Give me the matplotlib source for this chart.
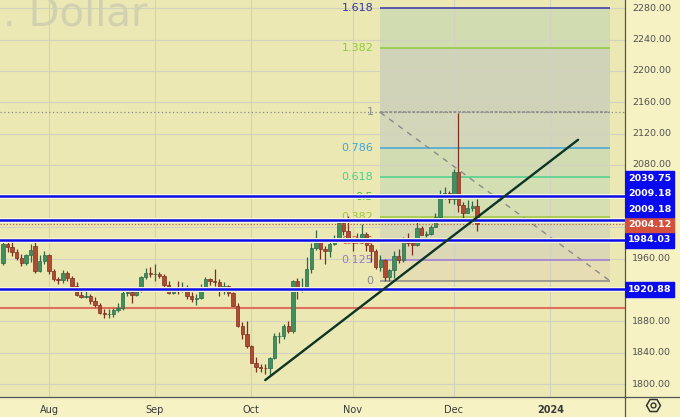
import matplotlib
matplotlib.use('Agg')
import matplotlib.pyplot as plt
import matplotlib.patheffects as pe
from matplotlib.patches import Rectangle
from matplotlib.lines import Line2D
import numpy as np
import pandas as pd

# daily candles, gold spot / usd, 18 Jul - 8 Dec 2023
first_day = '2023-07-18'
opens = [1955, 1979, 1975, 1969, 1961, 1954, 1965, 1976, 1945, 1957,
         1965, 1944, 1934, 1933, 1942, 1936, 1925, 1914, 1911, 1912, 1906, 1901,
         1891, 1889, 1889, 1895, 1897, 1916, 1917, 1914, 1919, 1937, 1942,
         1940, 1940, 1938, 1926, 1916, 1920, 1919, 1922, 1913, 1908, 1910,
         1924, 1934, 1931, 1930, 1920, 1925, 1916, 1900, 1874, 1864,
         1848, 1827, 1822, 1821, 1820, 1833, 1861, 1861, 1874, 1868, 1932,
         1920, 1923, 1947, 1974, 1981, 1972, 1970, 1979, 1985, 2006, 1996,
         1983, 1982, 1985, 1992, 1978, 1970, 1950, 1958, 1937, 1946, 1963,
         1959, 1981, 1980, 1978, 1999, 1990, 1992, 2001, 2013, 2041, 2044,
         2036, 2071, 2029, 2019, 2025, 2028]
highs = [1984, 1982, 1987, 1973, 1966, 1966, 1979, 1982, 1965, 1970,
         1966, 1947, 1937, 1946, 1944, 1938, 1930, 1922, 1919, 1915, 1911, 1904,
         1896, 1896, 1897, 1903, 1919, 1922, 1924, 1923, 1938, 1948, 1949,
         1953, 1943, 1941, 1931, 1924, 1932, 1930, 1926, 1917, 1915,
         1928, 1937, 1936, 1947, 1934, 1930, 1927, 1917, 1903, 1879, 1880,
         1850, 1835, 1826, 1825, 1835, 1865, 1866, 1877, 1881, 1933,
         1936, 1936, 1962, 1980, 1997, 1983, 1976, 1983, 1990, 2009, 2009, 2015,
         1987, 1993, 2004, 1994, 1980, 1972, 1965, 1960, 1947, 1970, 1972,
         1988, 1993, 1983, 2007, 2002, 1995, 2003, 2018, 2048, 2052, 2047,
         2075, 2146, 2032, 2035, 2034, 2036]
lows = [1952, 1969, 1964, 1959, 1951, 1952, 1956, 1942, 1943, 1953,
        1940, 1931, 1928, 1929, 1931, 1922, 1912, 1910, 1910, 1902, 1899, 1890,
        1884, 1884, 1885, 1892, 1895, 1912, 1903, 1912, 1917, 1934, 1937,
        1931, 1935, 1923, 1915, 1915, 1915, 1917, 1908, 1905, 1901,
        1909, 1920, 1927, 1925, 1913, 1915, 1912, 1900, 1873, 1857, 1846,
        1827, 1815, 1815, 1813, 1810, 1832, 1853, 1858, 1865, 1865,
        1908, 1917, 1921, 1942, 1971, 1960, 1953, 1962, 1977, 1983, 1990, 1980,
        1970, 1980, 1980, 1970, 1956, 1947, 1945, 1932, 1931, 1936, 1955,
        1956, 1976, 1965, 1976, 1990, 1988, 1990, 2001, 2010, 2036, 2031,
        2030, 2020, 2009, 2018, 2021, 1995]
closes = [1979, 1975, 1969, 1961, 1954, 1965, 1971, 1945, 1957, 1965,
          1944, 1934, 1933, 1942, 1936, 1925, 1914, 1911, 1912, 1906, 1901, 1891,
          1889, 1889, 1895, 1897, 1916, 1917, 1914, 1919, 1937, 1942, 1940,
          1940, 1938, 1926, 1916, 1920, 1919, 1922, 1913, 1908, 1910,
          1924, 1934, 1931, 1930, 1920, 1925, 1916, 1900, 1874, 1864, 1848,
          1827, 1822, 1821, 1820, 1833, 1861, 1861, 1874, 1868, 1932,
          1920, 1923, 1947, 1974, 1981, 1972, 1970, 1979, 1985, 2006, 1996, 1983,
          1982, 1985, 1992, 1978, 1970, 1950, 1958, 1937, 1946, 1963, 1959,
          1981, 1980, 1978, 1999, 1990, 1992, 2001, 2013, 2041, 2044, 2036,
          2071, 2029, 2019, 2025, 2028, 2004]

# horizontal levels
blue_levels = [2039.75, 2009.18, 1984.03, 1920.88]
red_level = 1897.0
last_price = 2004.12

# fibonacci retracement
fib_low, fib_high = 1931.5, 2147.0
fib_from, fib_to = '2023-11-09', '2024-01-18'
fib_ratios = [0, 0.125, 0.236, 0.382, 0.5, 0.618, 0.786, 1, 1.382, 1.618]
fib_colors = ['#8a8a8a', '#9a78d6', '#e0503f', '#a3c43c', '#3fc23a',
              '#4ccf8e', '#3fa6dc', '#8a8a8a', '#8fcb3c', '#3434a8']
fib_fills = ['#e6ddb3', '#dcd7b5', '#d8dbb6', '#d5dfb2', '#d3deb2',
             '#d1dcb3', '#d3d6b8', '#d1d3b8', '#d1dcb1']

# trend line
trend_dates = ['2023-10-05', '2024-01-09']
trend_prices = [1805, 2112]

# price scale tags
tag_prices = [1920.88, 1984.03, 2004.12, 2009.18, 2009.18, 2039.75]
tag_colors = ['#0a0aee', '#0a0aee', '#d2503c', '#0a0aee', '#0a0aee', '#0a0aee']

month_starts = ['2023-08', '2023-09', '2023-10', '2023-11', '2023-12', '2024-01']
month_names = ['Aug', 'Sep', 'Oct', 'Nov', 'Dec', '2024']

days = pd.bdate_range('2023-07-17', '2024-02-29')
pos = {d: i for i, d in enumerate(days)}
def xpos(s):
    return pos[pd.Timestamp(s)]

o = np.array(opens, float)
h = np.array(highs, float)
l = np.array(lows, float)
c = np.array(closes, float)
x0 = xpos(first_day)
x = np.arange(x0, x0 + len(o))

fig = plt.figure(figsize=(6.8, 4.17), dpi=100, facecolor='#f6f2c4')
ax = fig.add_axes([0, 20/417, 625/680, 397/417], facecolor='#ebe8b3')
ax.set_xlim(0.35, 136.2)
ax.set_ylim(1783.4, 2290.6)

mpos = [next(i for i, d in enumerate(days) if d.strftime('%Y-%m') == m) for m in month_starts]
ax.set_xticks(mpos, month_names)
ax.set_yticks(np.arange(1800, 2290, 40))
ax.grid(color='#d3d2c2', lw=0.8)
ax.set_axisbelow(True)
ax.tick_params(axis='y', length=0, labelleft=False)
ax.tick_params(axis='x', length=0, pad=6, labelsize=7, labelcolor='#3a3a3a')
ax.get_xticklabels()[-1].set_fontweight('bold')
for s in ['top', 'left']:
    ax.spines[s].set_visible(False)
for s in ['right', 'bottom']:
    ax.spines[s].set_color('#555555')
    ax.spines[s].set_linewidth(0.9)

# watermark (cut by the top edge, as in the source)
ax.text(3/625, 1 - 25/397, '. Dollar', transform=ax.transAxes, fontsize=29,
        color='#d2d1af', va='baseline', ha='left', zorder=0.6)

# fib
fx0, fx1 = xpos(fib_from), xpos(fib_to)
levels = [fib_low + r * (fib_high - fib_low) for r in fib_ratios]
for i in range(len(levels) - 1):
    ax.fill_between([fx0, fx1], levels[i], levels[i + 1], color=fib_fills[i], lw=0, zorder=0.3)
for r, lv, col in zip(fib_ratios, levels, fib_colors):
    ls = (0, (2, 1)) if r == 1 else '-'
    ax.hlines(lv, fx0, fx1, colors=col, lw=1.1, ls=ls, zorder=2)
    ax.text(fx0 - 1.5, lv, f'{r:g}', ha='right', va='center', color=col, fontsize=8, zorder=2)
ax.axhline(fib_high, color='#8a8a8a', ls=(0, (1, 2)), lw=0.9, zorder=1)
ax.plot([fx0, fx1], [fib_high, fib_low], color='#8a8a8a', ls=(0, (4, 4)), lw=1.0, zorder=2)

ax.axhline(red_level, color='#e0705e', lw=1.5, zorder=2)

# candles
up = c >= o
body_col = np.where(up, '#3f8f5f', '#b04a32')
edge_col = np.where(up, '#2d6a46', '#7d2f1e')
ax.vlines(x, l, h, colors=edge_col, lw=0.9, zorder=3)
ax.bar(x, np.maximum(np.abs(c - o), 0.9), bottom=np.minimum(o, c), width=0.74,
       color=body_col, edgecolor=edge_col, lw=0.5, zorder=4)

halo = [pe.Stroke(linewidth=3.6, foreground='#fbf8d2'), pe.Normal()]
for lv in blue_levels:
    ax.axhline(lv, color='#0b0bef', lw=1.8, zorder=5, path_effects=halo)
ax.axhline(last_price, color='#c0604a', ls=(0, (1, 1.5)), lw=0.9, zorder=5)

ax.plot([xpos(d) for d in trend_dates], trend_prices, color='#0c3524', lw=1.7,
        zorder=6, solid_capstyle='round')

# price scale
ax2 = fig.add_axes([625/680, 20/417, 55/680, 397/417])
ax2.set_xlim(0, 55)
ax2.set_ylim(ax.get_ylim())
ax2.axis('off')
tag_h = 19.4
tag_y = []
prev = -1e9
for p in tag_prices:
    prev = max(p, prev + tag_h)
    tag_y.append(prev)
for p in range(1800, 2290, 40):
    if any(abs(p - y) < tag_h * 0.8 for y in tag_y):
        continue  # hidden behind a tag
    ax2.text(7, p, f'{p:.2f}', va='center', ha='left', fontsize=6.8, color='#505050')
for p, y, col in zip(tag_prices, tag_y, tag_colors):
    ax2.add_patch(Rectangle((0, y - tag_h / 2), 49, tag_h, color=col, zorder=3))
    ax2.text(24.5, y, f'{p:.2f}', ha='center', va='center', color='white',
             fontsize=6.8, fontweight='bold', zorder=4)

fig.add_artist(Line2D([625/680, 1], [20/417, 20/417], color='#555555', lw=0.9))
fig.add_artist(Line2D([625/680, 625/680], [0, 20/417], color='#555555', lw=0.9))
fig.add_artist(Line2D([653/680], [1 - 405/417], marker='H', ms=10, mfc='none',
                      mec='#333333', mew=1.1))
fig.add_artist(Line2D([653/680], [1 - 405/417], marker='o', ms=3.5, mfc='none',
                      mec='#333333', mew=1.0))

fig.savefig('out.png', dpi=100, facecolor=fig.get_facecolor())
